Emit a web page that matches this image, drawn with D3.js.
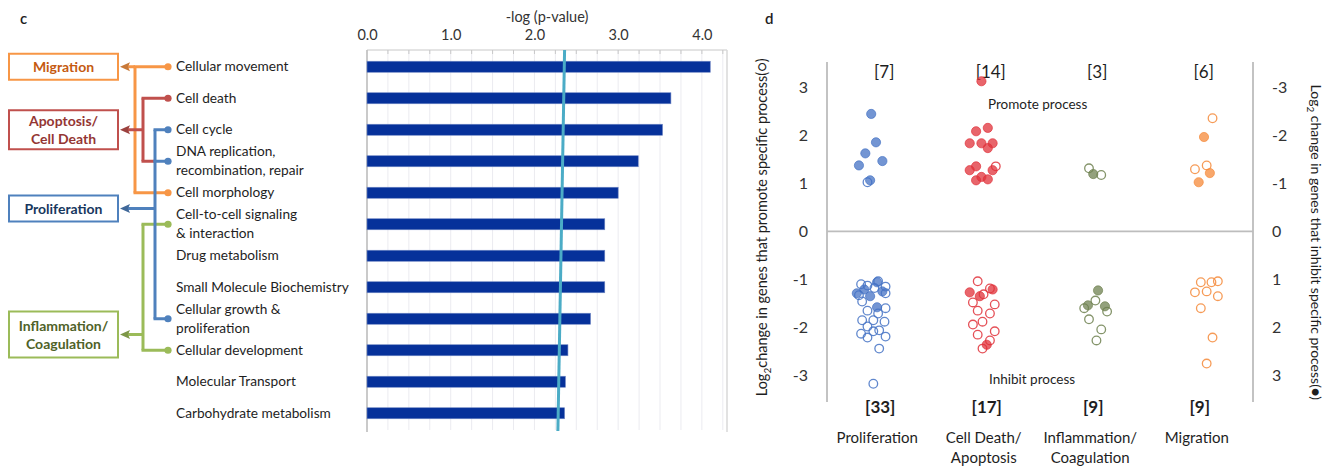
<!DOCTYPE html>
<html>
<head>
<meta charset="utf-8">
<script src="https://cdn.jsdelivr.net/npm/d3@7"></script>
<style>
  body { margin: 0; background: #fff; }
  svg { display: block; font-family: Lato, "Open Sans", sans-serif; }
</style>
</head>
<body>
<svg id="fig" width="1336" height="470"></svg>
<script>
// ---------- Panel c: enriched biological functions ----------
const functions = [
  "Cellular movement", "Cell death", "Cell cycle",
  "DNA replication,\nrecombination, repair", "Cell morphology",
  "Cell-to-cell signaling\n& interaction", "Drug metabolism",
  "Small Molecule Biochemistry", "Cellular growth &\nproliferation",
  "Cellular development", "Molecular Transport", "Carbohydrate metabolism"
];
const negLogP = [4.10, 3.63, 3.53, 3.24, 3.00, 2.84, 2.84, 2.84, 2.67, 2.40, 2.37, 2.36];
const barTicks = [0, 1, 2, 3, 4];
const thresholdEnds = [2.36, 2.28];          // significance line, top and bottom value

const processes = ["Migration", "Apoptosis/\nCell Death", "Proliferation", "Inflammation/\nCoagulation"];
const processMembers = [[0, 4], [1, 3], [2, 3, 8], [5, 9]];   // function rows feeding each process
const processBoxRow = [0, 2, 4.5, 8.5];                       // row each process box sits on

// ---------- Panel d: log2 change per process ----------
const groups = ["Proliferation", "Cell Death/\nApoptosis", "Inflammation/\nCoagulation", "Migration"];
const promoteCounts = ["[7]", "[14]", "[3]", "[6]"];
const inhibitCounts = ["[33]", "[17]", "[9]", "[9]"];
const log2Ticks = [-3, -2, -1, 0, 1, 2, 3];

// each gene: [offset within category, log2 change on the promote axis, 1 = filled (inhibit) / 0 = open (promote)]
const proliferationGenes = [
  [-0.085, 2.44, 1], [-0.04, 1.85, 1], [-0.14, 1.62, 1], [-0.2, 1.37, 1], [0.02, 1.46, 1], [-0.095, 1.06, 1], [-0.12, 1.02, 0],
  [-0.18, -1.10, 0], [-0.12, -1.13, 0], [-0.02, -1.04, 0], [0.05, -1.15, 0], [-0.055, -1.18, 0], [-0.2, -1.33, 0],
  [-0.17, -1.46, 0], [0.05, -1.29, 0], [-0.12, -1.65, 0], [-0.02, -1.71, 0], [0.05, -1.60, 0],
  [-0.17, -1.85, 0], [-0.065, -1.85, 0], [0.04, -1.88, 0], [-0.12, -1.98, 0], [-0.18, -2.13, 0],
  [-0.065, -2.08, 0], [-0.01, -2.06, 0], [0.05, -2.19, 0], [-0.12, -2.21, 0], [-0.01, -2.44, 0], [-0.065, -3.17, 0],
  [-0.22, -1.29, 1], [-0.15, -1.21, 1], [-0.095, -1.35, 1], [-0.03, -1.06, 1], [0.02, -1.25, 1], [-0.03, -1.58, 1]
];
const cellDeathGenes = [
  [-0.05, 3.12, 1], [-0.1, 2.08, 1], [0.01, 2.15, 1], [-0.16, 1.83, 1], [-0.05, 1.83, 1], [0.055, 1.83, 1], [0.01, 1.73, 1],
  [-0.1, 1.35, 1], [-0.16, 1.27, 1], [0.055, 1.27, 1], [-0.1, 1.06, 1], [-0.05, 1.13, 1], [0.01, 1.08, 1], [0.085, 1.35, 0],
  [-0.085, -1.04, 0], [0.03, -1.19, 0], [-0.13, -1.48, 0], [0.075, -1.52, 0], [-0.085, -1.65, 0], [0.03, -1.71, 0],
  [-0.04, -1.88, 0], [-0.13, -1.94, 0], [-0.085, -2.15, 0], [0.075, -2.08, 0], [0.03, -2.27, 0], [-0.04, -2.44, 0],
  [-0.03, -1.31, 0],
  [-0.16, -1.27, 1], [-0.065, -1.35, 1], [0.055, -1.21, 1], [0.0, -2.36, 1]
];
const inflammationGenes = [
  [-0.04, 1.31, 0], [0.0, 1.19, 1], [0.075, 1.17, 0],
  [0.02, -1.44, 0], [-0.085, -1.60, 0], [0.13, -1.67, 0], [-0.04, -1.83, 0], [0.075, -2.04, 0], [0.03, -2.27, 0],
  [0.045, -1.23, 1], [-0.05, -1.54, 1], [0.11, -1.56, 1]
];
const migrationGenes = [
  [0.12, 2.35, 0], [0.04, 1.96, 1], [0.065, 1.37, 0], [-0.045, 1.29, 0], [0.095, 1.21, 1], [-0.01, 1.02, 1],
  [0.01, -1.06, 0], [0.11, -1.06, 0], [0.17, -1.04, 0], [-0.045, -1.27, 0], [0.065, -1.25, 0],
  [0.17, -1.35, 0], [0.01, -1.60, 0], [0.12, -2.21, 0], [0.065, -2.75, 0]
];
const genesByGroup = [proliferationGenes, cellDeathGenes, inflammationGenes, migrationGenes];

// ---------- styling ----------
const lineColors = ["#F79646", "#C0504D", "#4F81BD", "#9BBB59"];
const boxTextColors = ["#C55A11", "#943634", "#17375E", "#4F6228"];
const dotColors = ["#4472C4", "#E0313A", "#6F8150", "#F58A3A"];
const barColor = "#06319A";
const textColor = "#1e1e1e";

const svg = d3.select("#fig");

// ================= Panel c =================
const gc = svg.append("g");
gc.append("text").attr("x", 20).attr("y", 24).attr("font-size", 15).attr("font-weight", 600).attr("fill", textColor).text("c");

const xBar = d3.scaleLinear().domain([0, 4.3]).range([367, 727]);
const yBar = d3.scaleBand().domain(d3.range(functions.length)).range([51, 429])
  .paddingInner(0.65).paddingOuter(0.325);
const rowY = i => yBar(i) + yBar.bandwidth() / 2;
const rowStep = yBar.step();
const rowYf = r => rowY(0) + r * rowStep;

// light vertical gridlines every 0.25
gc.append("g").selectAll("line")
  .data(d3.range(0.25, 4.3, 0.25))
  .join("line")
  .attr("x1", d => xBar(d)).attr("x2", d => xBar(d))
  .attr("y1", 50).attr("y2", 430)
  .attr("stroke", "#ebebf0").attr("stroke-width", 1);

// frame: top, left, right
gc.append("line").attr("x1", xBar(0)).attr("x2", xBar(4.3)).attr("y1", 50).attr("y2", 50)
  .attr("stroke", "#c8c8c8").attr("stroke-width", 1);
gc.append("line").attr("x1", xBar(0)).attr("x2", xBar(0)).attr("y1", 50).attr("y2", 432)
  .attr("stroke", "#b8b8b8").attr("stroke-width", 1.5);
gc.append("line").attr("x1", xBar(4.3)).attr("x2", xBar(4.3)).attr("y1", 50).attr("y2", 432)
  .attr("stroke", "#d8d8d8").attr("stroke-width", 1.5);

// top axis with tick labels
const topAxis = d3.axisTop(xBar).tickValues(barTicks).tickFormat(d3.format(".1f")).tickSize(0).tickPadding(10);
const ta = gc.append("g").attr("transform", "translate(0,50)").call(topAxis);
ta.select(".domain").remove();
ta.selectAll("text").attr("font-size", 14.5).attr("fill", "#333").attr("font-family", "Lato, sans-serif");
// minor ticks on top edge
gc.append("g").selectAll("line").data(d3.range(0, 4.3, 0.25)).join("line")
  .attr("x1", d => xBar(d)).attr("x2", d => xBar(d)).attr("y1", 50).attr("y2", 54)
  .attr("stroke", "#c8c8c8");

gc.append("text").attr("x", (xBar(0) + xBar(4.3)) / 2).attr("y", 22).attr("text-anchor", "middle")
  .attr("font-size", 14.5).attr("fill", "#333").text("-log (p-value)");

// bars
gc.append("g").selectAll("rect").data(negLogP).join("rect")
  .attr("x", xBar(0)).attr("y", (d, i) => yBar(i))
  .attr("width", d => xBar(d) - xBar(0)).attr("height", yBar.bandwidth())
  .attr("fill", barColor).attr("stroke", "#6f86c4").attr("stroke-width", 0.6);

// significance threshold
gc.append("line")
  .attr("x1", xBar(thresholdEnds[0])).attr("y1", 50)
  .attr("x2", xBar(thresholdEnds[1])).attr("y2", 431)
  .attr("stroke", "#4BACC6").attr("stroke-width", 3);

// function labels
const fl = gc.append("g").attr("font-size", 13.7).attr("fill", textColor);
functions.forEach((f, i) => {
  const lines = f.split("\n");
  const t = fl.append("text").attr("x", 176)
    .attr("y", rowY(i) - (lines.length - 1) * 9.5 + 4.5);
  lines.forEach((ln, k) => t.append("tspan").attr("x", 176).attr("dy", k ? 19 : 0).text(ln));
});

// connector tree from function rows to process boxes
const trunkX = [135, 143, 155, 143];
const dotX = 168;
const boxX0 = 9, boxX1 = 118;
const boxHalf = [13, 19.5, 13, 23];
const drawOrder = [0, 1, 3, 2];
const tree = gc.append("g");
drawOrder.forEach(p => {
  const col = lineColors[p];
  const rows = processMembers[p];
  const ys = rows.map(rowY);
  const g = tree.append("g");
  // vertical trunk
  g.append("line").attr("x1", trunkX[p]).attr("x2", trunkX[p])
    .attr("y1", d3.min(ys)).attr("y2", d3.max(ys))
    .attr("stroke", col).attr("stroke-width", 3);
  // branches
  rows.forEach(r => {
    const endX = (p === 1 && r === 3) ? trunkX[2] : dotX;
    g.append("line").attr("x1", trunkX[p] - 1.5).attr("x2", endX)
      .attr("y1", rowY(r)).attr("y2", rowY(r))
      .attr("stroke", col).attr("stroke-width", 3);
  });
  // arrow to box
  const by = rowYf(processBoxRow[p]);
  g.append("line").attr("x1", trunkX[p]).attr("x2", boxX1 + 8)
    .attr("y1", by).attr("y2", by).attr("stroke", col).attr("stroke-width", 3);
  g.append("path")
    .attr("d", `M${boxX1 + 2},${by} L${boxX1 + 12},${by - 4.5} L${boxX1 + 10},${by} L${boxX1 + 12},${by + 4.5} Z`)
    .attr("fill", d3.color(col).darker(0.6));
  // box
  const h = boxHalf[p];
  g.append("rect").attr("x", boxX0).attr("y", by - h).attr("width", boxX1 - boxX0).attr("height", 2 * h)
    .attr("fill", "#fff").attr("stroke", col).attr("stroke-width", 2);
  const lines = processes[p].split("\n");
  const t = g.append("text").attr("text-anchor", "middle").attr("font-size", 14).attr("font-weight", 700)
    .attr("fill", boxTextColors[p]);
  lines.forEach((ln, k) => t.append("tspan").attr("x", (boxX0 + boxX1) / 2)
    .attr("y", by + 5 - (lines.length - 1) * 9 + k * 18).text(ln));
});
// bullets at the start of each linked function
const bulletColor = {0: 0, 1: 1, 2: 2, 3: 2, 4: 0, 5: 3, 8: 2, 9: 3};
Object.entries(bulletColor).forEach(([r, p]) => {
  tree.append("circle").attr("cx", dotX).attr("cy", rowY(+r)).attr("r", 3.6).attr("fill", lineColors[p]);
});

// ================= Panel d =================
const gd = svg.append("g");
gd.append("text").attr("x", 765).attr("y", 24).attr("font-size", 15).attr("font-weight", 600).attr("fill", textColor).text("d");

const xCat = d3.scaleBand().domain(d3.range(groups.length)).range([827, 1253]).padding(0);
const yLog = d3.scaleLinear().domain([-3.55, 3.52]).range([402, 62]);
const yLogInv = d3.scaleLinear().domain([3.55, -3.52]).range([402, 62]);
const cx = i => xCat(i) + xCat.bandwidth() / 2;

// axes lines
gd.append("line").attr("x1", 827).attr("x2", 827).attr("y1", 62).attr("y2", 402).attr("stroke", "#bdbdbd").attr("stroke-width", 1.8);
gd.append("line").attr("x1", 1253).attr("x2", 1253).attr("y1", 62).attr("y2", 402).attr("stroke", "#bdbdbd").attr("stroke-width", 1.8);
gd.append("line").attr("x1", 827).attr("x2", 1253).attr("y1", yLog(0)).attr("y2", yLog(0)).attr("stroke", "#bdbdbd").attr("stroke-width", 1.8);

const la = gd.append("g").attr("transform", "translate(827,0)")
  .call(d3.axisLeft(yLog).tickValues(log2Ticks).tickFormat(d => String(d)).tickSize(0).tickPadding(19));
la.select(".domain").remove();
la.selectAll("text").attr("font-size", 16).attr("fill", "#333").attr("font-family", "Lato, sans-serif");
const ra = gd.append("g").attr("transform", "translate(1253,0)")
  .call(d3.axisRight(yLogInv).tickValues(log2Ticks).tickFormat(d => String(d)).tickSize(0).tickPadding(19));
ra.select(".domain").remove();
ra.selectAll("text").attr("font-size", 16).attr("fill", "#333").attr("font-family", "Lato, sans-serif");

// axis titles
const lt = gd.append("text").attr("transform", `translate(767,${yLog(0) - 4}) rotate(-90)`)
  .attr("text-anchor", "middle").attr("font-size", 14.5).attr("fill", textColor);
lt.append("tspan").text("Log");
lt.append("tspan").attr("font-size", 10).attr("dy", 4).text("2");
lt.append("tspan").attr("dy", -4).text("change in genes that promote  specific process(○)");

const rt = gd.append("text").attr("transform", `translate(1311,${yLog(0) + 11}) rotate(90)`)
  .attr("text-anchor", "middle").attr("font-size", 14).attr("fill", textColor);
rt.append("tspan").text("Log");
rt.append("tspan").attr("font-size", 10).attr("dy", 4).text("2");
rt.append("tspan").attr("dy", -4).text(" change in genes that inhibit  specific process(●)");

// counts and category names
gd.append("g").selectAll("text").data(promoteCounts).join("text")
  .attr("x", (d, i) => cx(i) + 4).attr("y", 78).attr("text-anchor", "middle")
  .attr("font-size", 17).attr("fill", textColor).text(d => d);
gd.append("g").selectAll("text").data(inhibitCounts).join("text")
  .attr("x", (d, i) => cx(i)).attr("y", 413).attr("text-anchor", "middle")
  .attr("font-size", 17).attr("font-weight", 700).attr("fill", textColor).text(d => d);
groups.forEach((g, i) => {
  const t = gd.append("text").attr("text-anchor", "middle").attr("font-size", 15).attr("fill", textColor);
  g.split("\n").forEach((ln, k) => t.append("tspan").attr("x", cx(i) - 3).attr("y", 443 + k * 20).text(ln));
});
gd.append("text").attr("x", 988).attr("y", 109).attr("font-size", 13.5).attr("fill", textColor).text("Promote process");
gd.append("text").attr("x", 989).attr("y", 384).attr("font-size", 13.5).attr("fill", textColor).text("Inhibit process");

// gene points
genesByGroup.forEach((genes, gi) => {
  const col = dotColors[gi];
  const sorted = genes.slice().sort((a, b) => a[2] - b[2]);
  gd.append("g").selectAll("circle").data(sorted).join("circle")
    .attr("cx", d => cx(gi) + d[0] * xCat.bandwidth())
    .attr("cy", d => yLog(d[1]))
    .attr("r", d => d[2] ? 4.6 : 4.3)
    .attr("fill", d => d[2] ? col : "none")
    .attr("fill-opacity", 0.75)
    .attr("stroke", col)
    .attr("stroke-opacity", 0.85)
    .attr("stroke-width", d => d[2] ? 0.8 : 1.3);
});
</script>
</body>
</html>
